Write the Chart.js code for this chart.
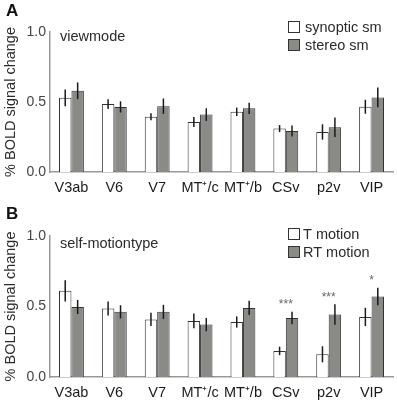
<!DOCTYPE html>
<html>
<head>
<meta charset="utf-8">
<script src="https://cdn.jsdelivr.net/npm/chart.js@4"></script>
<style>
  body { margin: 0; background: #fff; }
  .panel { position: absolute; left: 0; }
</style>
</head>
<body>
<canvas id="panelA" class="panel" width="397" height="200" style="top:0"></canvas>
<canvas id="panelB" class="panel" width="397" height="201" style="top:200px"></canvas>
<script>
// Regions of interest (x categories)
const regions = ['V3ab', 'V6', 'V7', 'MT\u207A/c', 'MT\u207A/b', 'CSv', 'p2v', 'VIP'];
const yTicks = [0.0, 0.5, 1.0];

// Panel A: viewmode
const synopticSm = [0.53, 0.485, 0.395, 0.357, 0.43, 0.31, 0.286, 0.466];
const synopticSmErr = [0.06, 0.035, 0.025, 0.035, 0.03, 0.025, 0.055, 0.05];
const stereoSm = [0.58, 0.465, 0.47, 0.41, 0.455, 0.293, 0.32, 0.533];
const stereoSmErr = [0.06, 0.04, 0.055, 0.045, 0.04, 0.04, 0.07, 0.07];

// Panel B: self-motiontype
const tMotion = [0.611, 0.486, 0.408, 0.398, 0.39, 0.185, 0.161, 0.426];
const tMotionErr = [0.075, 0.05, 0.047, 0.053, 0.04, 0.03, 0.057, 0.065];
const rtMotion = [0.497, 0.462, 0.462, 0.372, 0.49, 0.419, 0.443, 0.571];
const rtMotionErr = [0.05, 0.047, 0.05, 0.047, 0.05, 0.044, 0.073, 0.062];
const significance = ['', '', '', '', '', '***', '***', '*'];

const FONT = 'Arial, "Liberation Sans", Helvetica, sans-serif';
const WHITE_BAR = '#ffffff';
const GRAY_BAR = '#8a8a87';
const EDGE = '#333333';

// error bars, stars, legend, panel letter and caption
const panelDecor = {
  id: 'panelDecor',
  afterDatasetsDraw(chart, args, opts) {
    const ctx = chart.ctx;
    const y = chart.scales.y;
    ctx.save();

    // error bars
    ctx.strokeStyle = '#1a1a1a';
    ctx.lineWidth = 1.5;
    chart.data.datasets.forEach((ds, i) => {
      const meta = chart.getDatasetMeta(i);
      meta.data.forEach((bar, j) => {
        const v = ds.data[j], e = ds.errors[j];
        ctx.beginPath();
        ctx.moveTo(bar.x, y.getPixelForValue(v + e));
        ctx.lineTo(bar.x, y.getPixelForValue(v - e));
        ctx.stroke();
      });
    });

    // significance stars above the group
    if (opts.stars) {
      ctx.fillStyle = '#666';
      ctx.font = '12px ' + FONT;
      ctx.textAlign = 'center';
      ctx.textBaseline = 'middle';
      const x = chart.scales.x;
      opts.stars.forEach((s, j) => {
        if (!s) return;
        let top = Infinity;
        chart.data.datasets.forEach(ds => {
          top = Math.min(top, y.getPixelForValue(ds.data[j] + ds.errors[j]));
        });
        ctx.fillText(s, x.getPixelForValue(j), top - 7);
      });
    }

    // legend
    ctx.font = '14.5px ' + FONT;
    ctx.textAlign = 'left';
    ctx.textBaseline = 'middle';
    chart.data.datasets.forEach((ds, i) => {
      const ly = opts.legendY + i * opts.legendGap;
      ctx.fillStyle = ds.backgroundColor;
      ctx.fillRect(opts.legendX, ly - 5.5, 11, 11);
      ctx.strokeStyle = EDGE;
      ctx.lineWidth = 1;
      ctx.strokeRect(opts.legendX + 0.5, ly - 5.5, 11, 11);
      ctx.fillStyle = '#2a2a2a';
      ctx.fillText(ds.label, opts.legendX + opts.textOffset, ly + 1);
    });

    // caption inside plot
    ctx.fillStyle = '#2a2a2a';
    ctx.fillText(opts.caption, 60, opts.captionY);

    // panel letter
    ctx.font = 'bold 17px ' + FONT;
    ctx.fillStyle = '#111';
    ctx.fillText(opts.letter, 6, opts.letterY);

    ctx.restore();
  }
};

function makePanel(id, labels, series, decor, padTop, xAxisHeight) {
  return new Chart(document.getElementById(id), {
    type: 'bar',
    data: {
      labels: labels,
      datasets: series.map(s => ({
        label: s.label,
        data: s.data,
        errors: s.errors,
        backgroundColor: s.color,
        borderColor: EDGE,
        borderWidth: 1,
        categoryPercentage: 0.58,
        barPercentage: 1.0
      }))
    },
    options: {
      responsive: false,
      animation: false,
      layout: { padding: { top: padTop, right: 4, left: 0, bottom: 0 } },
      scales: {
        x: {
          afterFit: scale => { scale.height = xAxisHeight; },
          grid: { display: false, drawTicks: false },
          border: { color: '#999', width: 1.5 },
          ticks: { padding: 7, color: '#1a1a1a', font: { family: FONT, size: 14.5 }, maxRotation: 0, autoSkip: false }
        },
        y: {
          min: yTicks[0],
          max: yTicks[yTicks.length - 1],
          afterFit: scale => { scale.width = 50; },
          afterBuildTicks: scale => { scale.ticks = yTicks.map(v => ({ value: v })); },
          grid: { display: false, drawTicks: false },
          border: { color: '#999', width: 1.5 },
          ticks: {
            padding: 4,
            color: '#444',
            font: { family: FONT, size: 14 },
            callback: v => v.toFixed(1)
          },
          title: {
            display: true,
            text: '% BOLD signal change',
            color: '#2a2a2a',
            font: { family: FONT, size: 14.5 },
            padding: { top: 2, bottom: 0 }
          }
        }
      },
      plugins: {
        legend: { display: false },
        tooltip: { enabled: false },
        panelDecor: decor
      }
    },
    plugins: [panelDecor]
  });
}

makePanel('panelA', regions, [
  { label: 'synoptic sm', data: synopticSm, errors: synopticSmErr, color: WHITE_BAR },
  { label: 'stereo sm', data: stereoSm, errors: stereoSmErr, color: GRAY_BAR }
], {
  letter: 'A', letterY: 11,
  caption: 'viewmode', captionY: 37,
  legendX: 288, legendY: 27, legendGap: 18, textOffset: 17
}, 32, 28);

makePanel('panelB', regions, [
  { label: 'T motion', data: tMotion, errors: tMotionErr, color: WHITE_BAR },
  { label: 'RT motion', data: rtMotion, errors: rtMotionErr, color: GRAY_BAR }
], {
  letter: 'B', letterY: 14,
  caption: 'self-motiontype', captionY: 44,
  legendX: 288, legendY: 34, legendGap: 18, textOffset: 15,
  stars: significance
}, 36, 24);
</script>
</body>
</html>
